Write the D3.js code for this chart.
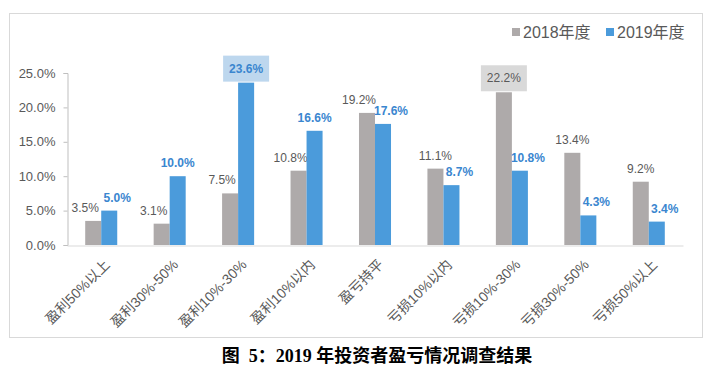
<!DOCTYPE html>
<html lang="zh">
<head>
    <meta charset="UTF-8">
    <title>2019年投资者盈亏情况调查结果</title>
    <script src="https://d3js.org/d3.v7.min.js"></script>
    <style>
        body {
            margin: 0;
            background: #fff;
            font-family: "Liberation Sans", "Noto Sans CJK SC", sans-serif;
        }
        .tick-label {
            font-size: 13px;
            fill: #595959;
        }
        .cat-label {
            font-size: 14px;
            fill: #595959;
        }
        .legend-label {
            font-size: 16px;
            fill: #595959;
        }
    </style>
</head>
<body>
<svg id="chart" width="718" height="377"></svg>

<script>
    const categories = ["盈利50%以上", "盈利30%-50%", "盈利10%-30%", "盈利10%以内", "盈亏持平",
        "亏损10%以内", "亏损10%-30%", "亏损30%-50%", "亏损50%以上"];
    const series = ["2018年度", "2019年度"];
    const values2018 = [3.5, 3.1, 7.5, 10.8, 19.2, 11.1, 22.2, 13.4, 9.2];
    const values2019 = [5.0, 10.0, 23.6, 16.6, 17.6, 8.7, 10.8, 4.3, 3.4];
    const yTicks = [0, 5, 10, 15, 20, 25];
    // labels drawn with a shaded box in the original
    const boxed2018 = ["亏损10%-30%"];
    const boxed2019 = ["盈利10%-30%"];

    const colors = ["#aeaaaa", "#4b9bdb"];
    const labelColors = ["#595959", "#3a86cf"];
    const boxColors = ["#d9d9d9", "#bdd7ee"];

    const svg = d3.select("#chart");

    // outer frame
    svg.append("rect")
        .attr("x", 9.5).attr("y", 13.5)
        .attr("width", 693).attr("height", 324)
        .attr("fill", "none")
        .attr("stroke", "#d9d9d9");

    const plot = { left: 67, right: 683, top: 73, bottom: 245 };

    const x = d3.scaleBand()
        .domain(categories)
        .range([plot.left, plot.right])
        .paddingInner(0.532)
        .paddingOuter(0.266);

    const xSub = d3.scaleBand()
        .domain(series)
        .range([0, x.bandwidth()]);

    const y = d3.scaleLinear()
        .domain([0, 25])
        .range([plot.bottom, plot.top]);

    // y axis
    const yAxis = d3.axisLeft(y)
        .tickValues(yTicks)
        .tickSize(4)
        .tickFormat(d => d.toFixed(1) + "%");
    const yg = svg.append("g")
        .attr("transform", `translate(${plot.left + 0.5},0)`)
        .call(yAxis);
    yg.select(".domain").attr("stroke", "#bfbfbf");
    yg.selectAll(".tick line").attr("stroke", "#bfbfbf");
    yg.selectAll(".tick text")
        .attr("class", "tick-label")
        .attr("x", -12)
        .attr("font-family", null)
        .attr("font-size", null)
        .attr("fill", null);

    // x axis line
    const xAxis = d3.axisBottom(x).tickSize(0).tickFormat("");
    const xg = svg.append("g")
        .attr("transform", `translate(0,${plot.bottom + 0.5})`)
        .call(xAxis);
    xg.select(".domain").attr("stroke", "#d9d9d9");

    // category labels, rotated
    svg.selectAll(".cat-label")
        .data(categories)
        .enter()
        .append("text")
        .attr("class", "cat-label")
        .attr("text-anchor", "end")
        .attr("dy", "0.35em")
        .attr("transform", d => {
            const cx = x(d) + x.bandwidth() / 2 + 6;
            return `translate(${cx},${plot.bottom + 17}) rotate(-45)`;
        })
        .text(d => d);

    const rows = categories.map((c, i) => ({ cat: c, vals: [values2018[i], values2019[i]] }));
    const boxed = [boxed2018, boxed2019];

    // label of the shorter bar moves away from the taller one,
    // and both move when the two labels would collide
    const nudge = 8;
    rows.forEach(r => {
        const dy = Math.abs(y(r.vals[0]) - y(r.vals[1]));
        const shorter = r.vals[0] < r.vals[1] ? 0 : 1;
        const dir = [-1, 1];
        r.shift = [0, 0];
        r.shift[shorter] = dir[shorter] * nudge;
        if (dy < 14) r.shift[1 - shorter] = dir[1 - shorter] * nudge;
    });

    const groups = svg.selectAll(".grp")
        .data(rows)
        .enter()
        .append("g")
        .attr("transform", d => `translate(${x(d.cat)},0)`);

    series.forEach((s, si) => {
        groups.append("rect")
            .attr("x", xSub(s))
            .attr("y", d => y(d.vals[si]))
            .attr("width", xSub.bandwidth())
            .attr("height", d => y(0) - y(d.vals[si]))
            .attr("fill", colors[si]);

        const lab = groups.append("g")
            .attr("transform", d => `translate(${xSub(s) + xSub.bandwidth() / 2 + d.shift[si]},${y(d.vals[si]) - 9})`);

        lab.filter(d => boxed[si].includes(d.cat))
            .append("rect")
            .attr("x", -23)
            .attr("y", -18)
            .attr("width", 46)
            .attr("height", 26)
            .attr("fill", boxColors[si]);

        lab.append("text")
            .attr("text-anchor", "middle")
            .attr("y", d => boxed[si].includes(d.cat) ? -1 : 0)
            .attr("font-size", "12px")
            .attr("font-weight", si === 1 ? "bold" : "normal")
            .attr("fill", labelColors[si])
            .text(d => d.vals[si].toFixed(1) + "%");
    });

    // legend
    const legend = svg.append("g").attr("transform", "translate(512,32)");
    const legX = [0, 94];
    series.forEach((s, si) => {
        const g = legend.append("g").attr("transform", `translate(${legX[si]},0)`);
        g.append("rect")
            .attr("x", 0).attr("y", -4)
            .attr("width", 8).attr("height", 8)
            .attr("fill", colors[si]);
        g.append("text")
            .attr("class", "legend-label")
            .attr("x", 11)
            .attr("dy", "0.35em")
            .text(s);
    });

    // caption
    svg.append("text")
        .attr("x", 377)
        .attr("y", 362)
        .attr("text-anchor", "middle")
        .attr("font-family", "'Liberation Serif', 'Noto Sans CJK SC', serif")
        .attr("font-weight", "bold")
        .attr("font-size", "18px")
        .attr("fill", "#000")
        .attr("xml:space", "preserve")
        .text("图  5：2019 年投资者盈亏情况调查结果");
</script>
</body>
</html>
